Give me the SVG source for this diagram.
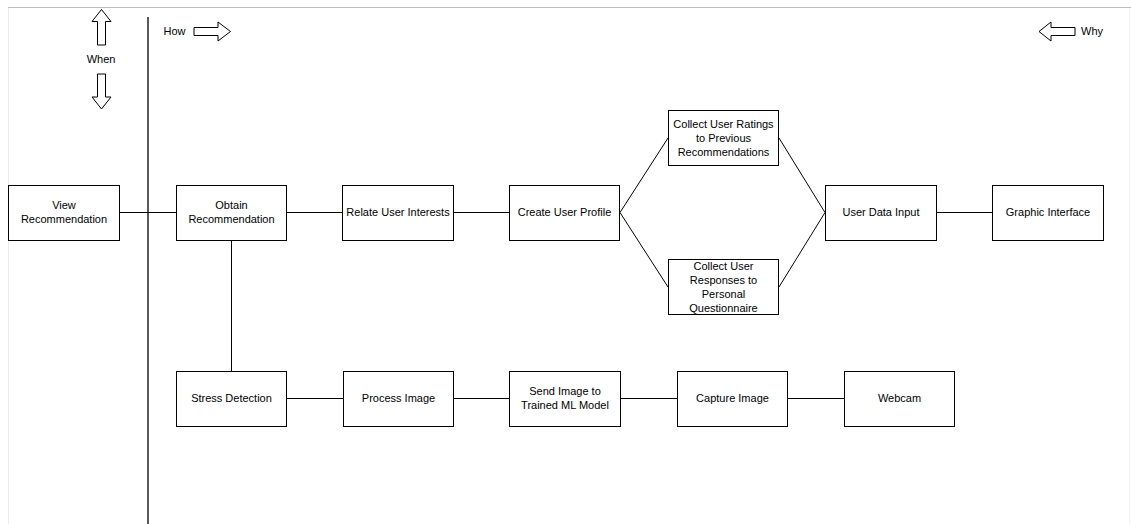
<svg xmlns="http://www.w3.org/2000/svg" width="1131" height="524" viewBox="0 0 1131 524">
  <style>
    .node rect { fill: #ffffff; stroke: #000000; stroke-width: 1; }
    .node text, .label { font-family: "Liberation Sans", Arial, Helvetica, sans-serif; font-size: 11px; fill: #000000; text-anchor: middle; }
    .edge { stroke: #000000; stroke-width: 1; fill: none; }
    .arrow { fill: #ffffff; stroke: #000000; stroke-width: 1; stroke-linejoin: miter; }
  </style>
  <rect x="0" y="0" width="1131" height="524" fill="#ffffff"/>

  <!-- page frame -->
  <line x1="8" y1="7.5" x2="1131" y2="7.5" stroke="#bdbdbd" stroke-width="1"/>
  <line x1="8.5" y1="8" x2="8.5" y2="524" stroke="#ececec" stroke-width="1"/>
  <line x1="1129.5" y1="8" x2="1129.5" y2="524" stroke="#f0f0f0" stroke-width="1"/>

  <!-- divider between "When" and "How" -->
  <line x1="148" y1="17" x2="148" y2="524" stroke="#000000" stroke-width="1.3"/>

  <!-- orientation hints -->
  <g id="hint-when">
    <path class="arrow" d="M101.5,9.5 L111,21.5 L105.5,21.5 L105.5,45 L97.5,45 L97.5,21.5 L92,21.5 Z"/>
    <text class="label" x="101" y="63">When</text>
    <path class="arrow" d="M97.5,74 L105.5,74 L105.5,97 L111,97 L101.5,109 L92,97 L97.5,97 Z"/>
  </g>
  <g id="hint-how">
    <text class="label" x="174.5" y="35">How</text>
    <path class="arrow" d="M194,27.5 L218,27.5 L218,22 L230.5,31.5 L218,41 L218,35.5 L194,35.5 Z"/>
  </g>
  <g id="hint-why">
    <path class="arrow" d="M1075,27.5 L1051,27.5 L1051,22 L1039,31.5 L1051,41 L1051,35.5 L1075,35.5 Z"/>
    <text class="label" x="1092" y="35">Why</text>
  </g>

  <!-- connectors -->
  <g id="connectors">
    <line class="edge" x1="120" y1="212.5" x2="176" y2="212.5"/>
    <line class="edge" x1="287" y1="212.5" x2="342" y2="212.5"/>
    <line class="edge" x1="453" y1="212.5" x2="509" y2="212.5"/>
    <line class="edge" x1="620" y1="212.5" x2="668" y2="138"/>
    <line class="edge" x1="620" y1="212.5" x2="668" y2="287"/>
    <line class="edge" x1="779" y1="138" x2="825" y2="212.5"/>
    <line class="edge" x1="779" y1="287" x2="825" y2="212.5"/>
    <line class="edge" x1="937" y1="212.5" x2="992" y2="212.5"/>
    <line class="edge" x1="231.5" y1="240.5" x2="231.5" y2="371"/>
    <line class="edge" x1="287" y1="398.5" x2="343" y2="398.5"/>
    <line class="edge" x1="454" y1="398.5" x2="509" y2="398.5"/>
    <line class="edge" x1="621" y1="398.5" x2="677" y2="398.5"/>
    <line class="edge" x1="788" y1="398.5" x2="844" y2="398.5"/>
  </g>

  <!-- nodes -->
  <g id="view-recommendation" class="node">
    <rect x="8.5" y="185.5" width="111" height="55"/>
    <text x="64" y="209">View</text>
    <text x="64" y="223">Recommendation</text>
  </g>
  <g id="obtain-recommendation" class="node">
    <rect x="176.5" y="185.5" width="110" height="55"/>
    <text x="231.5" y="209">Obtain</text>
    <text x="231.5" y="223">Recommendation</text>
  </g>
  <g id="relate-user-interests" class="node">
    <rect x="342.5" y="185.5" width="111" height="55"/>
    <text x="398" y="216">Relate User Interests</text>
  </g>
  <g id="create-user-profile" class="node">
    <rect x="509.5" y="185.5" width="110" height="55"/>
    <text x="564.5" y="216">Create User Profile</text>
  </g>
  <g id="collect-ratings" class="node">
    <rect x="668.5" y="110.5" width="110" height="55"/>
    <text x="723.5" y="128">Collect User Ratings</text>
    <text x="723.5" y="142">to Previous</text>
    <text x="723.5" y="156">Recommendations</text>
  </g>
  <g id="collect-responses" class="node">
    <rect x="668.5" y="259.5" width="110" height="55"/>
    <text x="723.5" y="270">Collect User</text>
    <text x="723.5" y="284">Responses to</text>
    <text x="723.5" y="298">Personal</text>
    <text x="723.5" y="312">Questionnaire</text>
  </g>
  <g id="user-data-input" class="node">
    <rect x="825.5" y="185.5" width="111" height="55"/>
    <text x="881" y="216">User Data Input</text>
  </g>
  <g id="graphic-interface" class="node">
    <rect x="992.5" y="185.5" width="111" height="55"/>
    <text x="1048" y="216">Graphic Interface</text>
  </g>
  <g id="stress-detection" class="node">
    <rect x="176.5" y="371.5" width="110" height="55"/>
    <text x="231.5" y="402">Stress Detection</text>
  </g>
  <g id="process-image" class="node">
    <rect x="343.5" y="371.5" width="110" height="55"/>
    <text x="398.5" y="402">Process Image</text>
  </g>
  <g id="send-image" class="node">
    <rect x="509.5" y="371.5" width="111" height="55"/>
    <text x="565" y="395">Send Image to</text>
    <text x="565" y="409">Trained ML Model</text>
  </g>
  <g id="capture-image" class="node">
    <rect x="677.5" y="371.5" width="110" height="55"/>
    <text x="732.5" y="402">Capture Image</text>
  </g>
  <g id="webcam" class="node">
    <rect x="844.5" y="371.5" width="110" height="55"/>
    <text x="899.5" y="402">Webcam</text>
  </g>
</svg>
